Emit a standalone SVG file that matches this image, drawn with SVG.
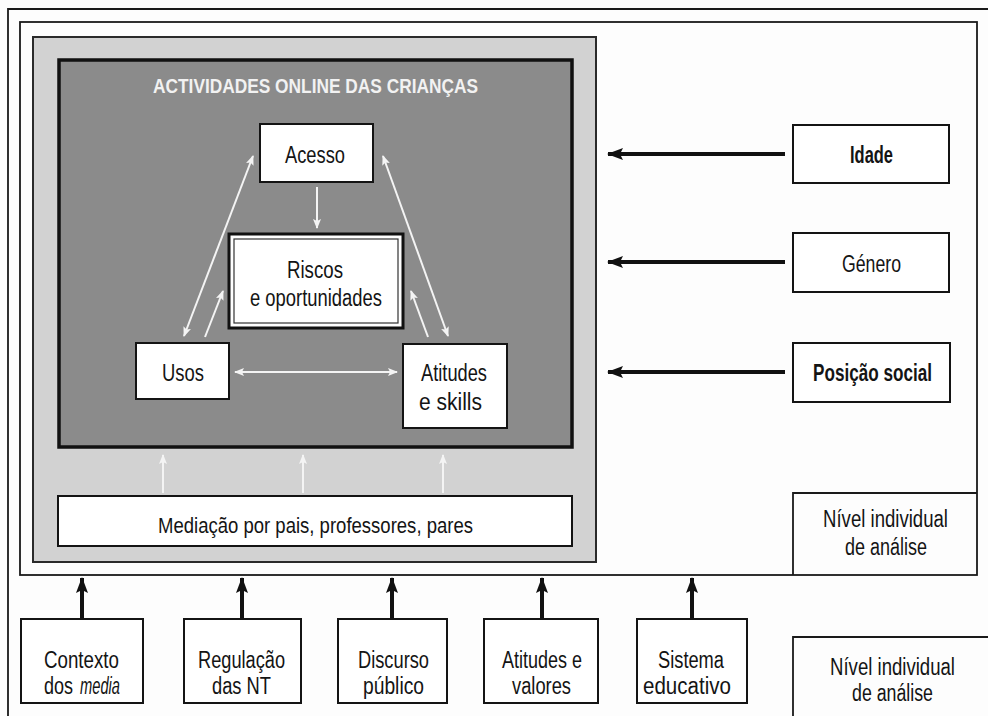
<svg xmlns="http://www.w3.org/2000/svg" width="988" height="716" viewBox="0 0 988 716">
<defs>
<style>
.t{font-family:"Liberation Sans",Arial,sans-serif;font-size:23px;fill:#141414}
.tb{font-weight:bold}
.box{fill:#fff;stroke:#141414;stroke-width:2}
.wl{stroke:#f4f4f4;stroke-width:2;fill:none}
.bl{stroke:#111;stroke-width:4;fill:none}
.fr{fill:none;stroke:#1a1a1a;stroke-width:1.8}
</style>
<marker id="wa" viewBox="0 0 10 8" refX="9" refY="4" markerWidth="10" markerHeight="8" markerUnits="userSpaceOnUse" orient="auto-start-reverse">
<path d="M0,0 L10,4 L0,8 L2,4 Z" fill="#f4f4f4"/>
</marker>
<marker id="ba" viewBox="0 0 16 12" refX="15" refY="6" markerWidth="16" markerHeight="12" markerUnits="userSpaceOnUse" orient="auto">
<path d="M0,0 L16,6 L0,12 L3,6 Z" fill="#111"/>
</marker>
</defs>
<rect width="988" height="716" fill="#fdfdfd"/>
<g id="frames">
<path d="M8,716 L8,9 L988,9" class="fr"/>
<rect x="20" y="22" width="957" height="553" class="fr"/>
<rect x="33" y="37" width="563" height="525" fill="#d2d2d2" stroke="#2a2a2a" stroke-width="2"/>
<rect x="59" y="60" width="513" height="387" fill="#8b8b8b" stroke="#111" stroke-width="3.5"/>
<text x="153" y="93" class="t tb" style="font-size:20px;fill:#f2f2f2" textLength="325" lengthAdjust="spacingAndGlyphs">ACTIVIDADES ONLINE DAS CRIANÇAS</text>
</g>
<g id="acesso">
<rect x="260" y="124" width="113" height="58" class="box"/>
<text x="285" y="163" class="t" textLength="60" lengthAdjust="spacingAndGlyphs">Acesso</text>
</g>
<g id="riscos">
<rect x="229" y="234" width="174" height="94" fill="#fff" stroke="#111" stroke-width="3"/>
<rect x="234" y="239" width="164" height="84" fill="none" stroke="#333" stroke-width="1.2"/>
<text x="287" y="278" class="t" textLength="56" lengthAdjust="spacingAndGlyphs">Riscos</text>
<text x="250" y="306" class="t" textLength="132" lengthAdjust="spacingAndGlyphs">e oportunidades</text>
</g>
<g id="usos">
<rect x="136" y="343" width="93" height="56" class="box"/>
<text x="162" y="381" class="t" textLength="42" lengthAdjust="spacingAndGlyphs">Usos</text>
</g>
<g id="atitudes">
<rect x="403" y="344" width="104" height="84" class="box"/>
<text x="421" y="381" class="t" textLength="66" lengthAdjust="spacingAndGlyphs">Atitudes</text>
<text x="419" y="410" class="t" textLength="63" lengthAdjust="spacingAndGlyphs">e skills</text>
</g>
<g id="mediacao">
<rect x="58" y="496" width="514" height="50" class="box"/>
<text x="158" y="533" class="t" style="font-size:22px" textLength="315" lengthAdjust="spacingAndGlyphs">Mediação por pais, professores, pares</text>
</g>
<g id="idade">
<rect x="793" y="125" width="156" height="58" class="box"/>
<text x="850" y="163" class="t tb" textLength="43" lengthAdjust="spacingAndGlyphs">Idade</text>
</g>
<g id="genero">
<rect x="793" y="233" width="156" height="59" class="box"/>
<text x="842" y="272" class="t" textLength="59" lengthAdjust="spacingAndGlyphs">Género</text>
</g>
<g id="posicao">
<rect x="793" y="343" width="157" height="59" class="box"/>
<text x="813" y="381" class="t tb" textLength="119" lengthAdjust="spacingAndGlyphs">Posição social</text>
</g>
<g id="nivel1">
<path d="M793,575 L793,493 L977,493" class="fr"/>
<text x="823" y="527" class="t" textLength="125" lengthAdjust="spacingAndGlyphs">Nível individual</text>
<text x="845" y="555" class="t" textLength="82" lengthAdjust="spacingAndGlyphs">de análise</text>
</g>
<g id="nivel2">
<path d="M793,716 L793,637 L988,637" class="fr"/>
<text x="830" y="675" class="t" textLength="125" lengthAdjust="spacingAndGlyphs">Nível individual</text>
<text x="852" y="701" class="t" textLength="81" lengthAdjust="spacingAndGlyphs">de análise</text>
</g>
<g id="contexto">
<rect x="21" y="619" width="122" height="84" class="box"/>
<text x="44" y="668" class="t" textLength="75" lengthAdjust="spacingAndGlyphs">Contexto</text>
<text x="44" y="694" class="t" textLength="29" lengthAdjust="spacingAndGlyphs">dos</text>
<text x="80" y="694" class="t" style="font-style:italic" textLength="40" lengthAdjust="spacingAndGlyphs">media</text>
</g>
<g id="regulacao">
<rect x="184" y="619" width="117" height="84" class="box"/>
<text x="198" y="668" class="t" textLength="87" lengthAdjust="spacingAndGlyphs">Regulação</text>
<text x="212" y="694" class="t" textLength="59" lengthAdjust="spacingAndGlyphs">das NT</text>
</g>
<g id="discurso">
<rect x="338" y="619" width="109" height="84" class="box"/>
<text x="358" y="668" class="t" textLength="71" lengthAdjust="spacingAndGlyphs">Discurso</text>
<text x="363" y="694" class="t" textLength="61" lengthAdjust="spacingAndGlyphs">público</text>
</g>
<g id="atitudes-valores">
<rect x="484" y="619" width="114" height="84" class="box"/>
<text x="502" y="668" class="t" textLength="80" lengthAdjust="spacingAndGlyphs">Atitudes e</text>
<text x="512" y="694" class="t" textLength="59" lengthAdjust="spacingAndGlyphs">valores</text>
</g>
<g id="sistema">
<rect x="637" y="619" width="110" height="84" class="box"/>
<text x="658" y="668" class="t" textLength="66" lengthAdjust="spacingAndGlyphs">Sistema</text>
<text x="643" y="694" class="t" textLength="88" lengthAdjust="spacingAndGlyphs">educativo</text>
</g>
<g id="connectors">
<line x1="317" y1="187" x2="317" y2="228" class="wl" marker-end="url(#wa)"/>
<line x1="184" y1="336" x2="253" y2="156" class="wl" marker-start="url(#wa)" marker-end="url(#wa)"/>
<line x1="383" y1="156" x2="448" y2="336" class="wl" marker-start="url(#wa)" marker-end="url(#wa)"/>
<line x1="205" y1="337" x2="223" y2="291" class="wl" marker-end="url(#wa)"/>
<line x1="428" y1="337" x2="411" y2="291" class="wl" marker-end="url(#wa)"/>
<line x1="235" y1="372" x2="397" y2="372" class="wl" marker-start="url(#wa)" marker-end="url(#wa)"/>
<line x1="163" y1="493" x2="163" y2="455" class="wl" marker-end="url(#wa)"/>
<line x1="303" y1="493" x2="303" y2="455" class="wl" marker-end="url(#wa)"/>
<line x1="443" y1="493" x2="443" y2="455" class="wl" marker-end="url(#wa)"/>
<line x1="785" y1="154" x2="608" y2="154" class="bl" marker-end="url(#ba)"/>
<line x1="785" y1="262" x2="608" y2="262" class="bl" marker-end="url(#ba)"/>
<line x1="785" y1="372" x2="608" y2="372" class="bl" marker-end="url(#ba)"/>
<line x1="82" y1="618" x2="82" y2="578" class="bl" marker-end="url(#ba)"/>
<line x1="242" y1="618" x2="242" y2="578" class="bl" marker-end="url(#ba)"/>
<line x1="392" y1="618" x2="392" y2="578" class="bl" marker-end="url(#ba)"/>
<line x1="542" y1="618" x2="542" y2="578" class="bl" marker-end="url(#ba)"/>
<line x1="692" y1="618" x2="692" y2="578" class="bl" marker-end="url(#ba)"/>
</g>
</svg>
